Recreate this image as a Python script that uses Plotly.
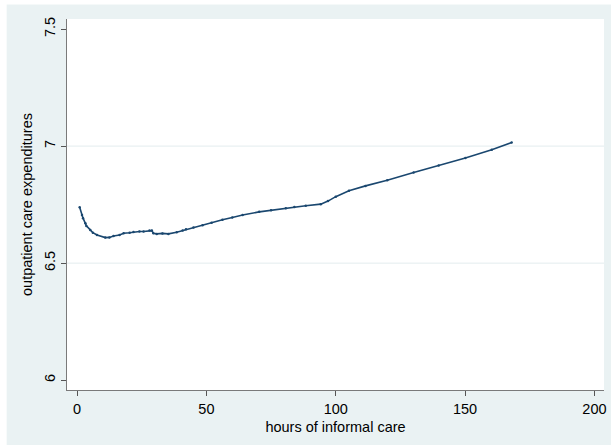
import plotly.graph_objects as go

# data
hours = [1.0, 1.9, 2.3, 3.2, 3.6, 5.1, 6.1, 7.7, 10.9, 12.5, 14.1, 16.4, 18.0, 20.3, 21.8,
         24.1, 25.7, 28.0, 28.9, 29.5, 30.8, 33.0, 35.3, 38.5, 40.8, 42.1, 45.0, 48.5, 52.0,
         56.2, 60.0, 64.0, 70.4, 75.0, 80.7, 84.0, 88.4, 94.2, 97.0, 100.0, 105.1, 111.5,
         119.9, 130.1, 139.8, 150.1, 160.3, 168.0]
expend = [6.739, 6.706, 6.692, 6.670, 6.659, 6.642, 6.630, 6.620, 6.609, 6.610, 6.616, 6.620,
          6.628, 6.630, 6.633, 6.635, 6.635, 6.639, 6.639, 6.628, 6.625, 6.627, 6.625, 6.632,
          6.639, 6.645, 6.652, 6.662, 6.672, 6.685, 6.695, 6.706, 6.719, 6.726, 6.735, 6.740,
          6.745, 6.752, 6.765, 6.784, 6.809, 6.830, 6.854, 6.887, 6.917, 6.949, 6.984, 7.015]

x_ticks = [0, 50, 100, 150, 200]
y_ticks = [6, 6.5, 7, 7.5]
y_tick_labels = ["6", "6.5", "7", "7.5"]
grid_vals = [6.5, 7]

BG = "#EAF2F3"
NAVY = "#1a476f"
FONT = "Liberation Sans, Arial, Helvetica, sans-serif"

fig = go.Figure()
fig.add_trace(go.Scatter(
    x=hours, y=expend, mode="lines+markers",
    line=dict(color=NAVY, width=1.6),
    marker=dict(color=NAVY, size=2.5),
    showlegend=False, hoverinfo="skip",
))

shapes = []
for g in grid_vals:
    shapes.append(dict(type="line", xref="paper", yref="y", x0=0, x1=1, y0=g, y1=g,
                       line=dict(color="#E3ECEE", width=1), layer="below"))
# white strips at the image edges (cropped outer margin)
shapes.append(dict(type="rect", xref="paper", yref="paper", x0=-0.2, x1=1.1,
                   y0=1.0 + 14.5 / 371.0, y1=1.2, fillcolor="white", line=dict(width=0),
                   layer="above"))
shapes.append(dict(type="rect", xref="paper", yref="paper", x0=-0.2,
                   x1=-60.5 / 538.5, y0=-0.3, y1=1.2, fillcolor="white",
                   line=dict(width=0), layer="above"))

fig.update_layout(
    width=611, height=445, autosize=False,
    margin=dict(l=67, r=5, t=19, b=55),
    paper_bgcolor=BG, plot_bgcolor="white",
    font=dict(family=FONT, size=14.5, color="black"),
    shapes=shapes,
    xaxis=dict(
        range=[-3.9, 203.7], tickvals=x_ticks, ticks="outside", ticklen=5,
        tickcolor="#555555", showline=True, linecolor="#7a7a7a", linewidth=1.3,
        showgrid=False, zeroline=False, tickfont=dict(size=14.5),
        title=dict(text="hours of informal care", font=dict(size=14.5), standoff=6),
    ),
    yaxis=dict(
        range=[5.958, 7.543], tickvals=y_ticks, ticktext=y_tick_labels, tickangle=-90,
        ticks="outside", ticklen=5, tickcolor="#555555", showline=True,
        linecolor="#7a7a7a", linewidth=1.3, showgrid=False, zeroline=False,
        tickfont=dict(size=14.5),
        title=dict(text="outpatient care expenditures", font=dict(size=14.5), standoff=5),
    ),
)

fig.write_html(
    "out.html",
    config={"displayModeBar": False, "staticPlot": True},
    post_script="document.body.style.margin='0';document.body.style.overflow='hidden';",
)
